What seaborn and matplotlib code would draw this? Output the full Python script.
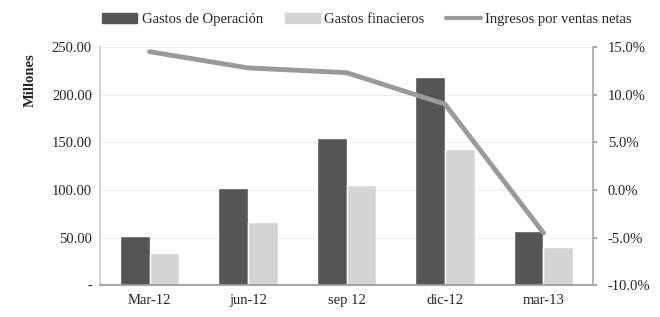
import numpy as np
import pandas as pd
import matplotlib
matplotlib.use("Agg")
import matplotlib.pyplot as plt
import seaborn as sns
from matplotlib.patches import Patch
from matplotlib.lines import Line2D
from matplotlib.ticker import FuncFormatter

periods = ["Mar-12", "jun-12", "sep 12", "dic-12", "mar-13"]
gastos_operacion = [52, 102, 155, 218, 57]
gastos_financieros = [34, 66, 105, 143, 40]
ingresos_ventas = [14.5, 12.8, 12.3, 9.0, -4.5]

dark = "#555555"
light = "#d4d4d4"
line_c = "#9a9a9a"

sns.set_theme(style="white")
plt.rcParams["font.family"] = ["Liberation Serif", "DejaVu Serif"]

df = pd.DataFrame({
    "Periodo": periods * 2,
    "Serie": ["Gastos de Operación"] * 5 + ["Gastos finacieros"] * 5,
    "Valor": gastos_operacion + gastos_financieros,
})

fig = plt.figure(figsize=(6.6, 3.17), dpi=100)
ax = fig.add_axes([0.152, 0.10, 0.746, 0.752])

sns.barplot(data=df, x="Periodo", y="Valor", hue="Serie", order=periods,
            palette=[dark, light], width=0.6, saturation=1, ax=ax, legend=False)
ax.set_ylim(0, 250)
ax.set_yticks([0, 50, 100, 150, 200, 250])
ax.yaxis.set_major_formatter(FuncFormatter(lambda v, p: "-" if v == 0 else f"{v:.2f}"))
ax.grid(axis="y", color="#eeeeee", linewidth=0.8)
ax.set_axisbelow(True)
ax.set_xlabel("")
ax.set_ylabel("Millones", fontsize=10.5, fontweight="bold")
ax.yaxis.set_label_coords(-0.13, 0.86)
ax.tick_params(axis="both", labelsize=10.5, length=0, pad=6)
for s in ["top", "right"]:
    ax.spines[s].set_visible(False)
ax.spines["left"].set_color("#cccccc")
ax.spines["bottom"].set_color("#999999")

ax2 = ax.twinx()
sns.lineplot(x=np.arange(len(periods)), y=ingresos_ventas, color=line_c,
             linewidth=3.5, ax=ax2)
ax2.set_ylim(-10, 15)
ax2.set_yticks([-10, -5, 0, 5, 10, 15])
ax2.yaxis.set_major_formatter(FuncFormatter(lambda v, p: f"{v:.1f}%"))
ax2.tick_params(axis="y", labelsize=10.5, length=3, color="#999999", pad=8)
for s in ["top", "left", "bottom"]:
    ax2.spines[s].set_visible(False)
ax2.spines["right"].set_color("#aaaaaa")
ax.set_xlim(-0.5, 4.5)

handles = [Patch(color=dark), Patch(color=light), Line2D([], [], color=line_c, linewidth=3)]
labels = ["Gastos de Operación", "Gastos finacieros", "Ingresos por ventas netas"]
fig.legend(handles, labels, loc="upper left", bbox_to_anchor=(0.135, 1.0), ncol=3,
           frameon=False, fontsize=10.5, handlelength=2.4, handletextpad=0.3,
           columnspacing=1.5)

fig.savefig("out.png", dpi=100)
